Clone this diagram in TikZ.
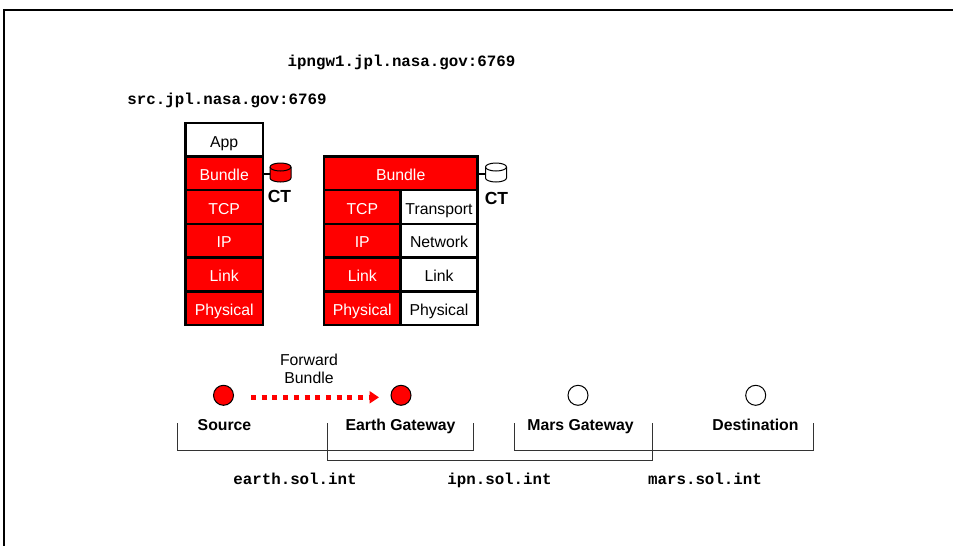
\documentclass[tikz,border=0pt]{standalone}
\usepackage{fontspec}
\setmainfont{Liberation Sans}
\setmonofont{Liberation Mono}
\usetikzlibrary{arrows.meta}

\definecolor{bundlered}{RGB}{255,0,0}

\tikzset{
  layer/.style={draw=black,line width=2.4pt,minimum height=33.5pt,inner sep=0pt,
    font=\fontsize{15.8}{18}\selectfont,text height=14pt,text depth=0pt},
  redlayer/.style={layer,fill=bundlered,text=white},
  whitelayer/.style={layer,fill=white,text=black},
  ctdrum/.style={draw=black,line width=1pt},
  ctlabel/.style={font=\bfseries\fontsize{17.5}{20}\selectfont},
  hop/.style={circle,draw=black,line width=1pt,minimum size=20pt,inner sep=0pt},
  hoplabel/.style={font=\bfseries\fontsize{15.8}{18}\selectfont,text height=11.5pt,text depth=3.5pt},
  addr/.style={font=\ttfamily\bfseries\fontsize{15.8}{18}\selectfont,text height=11.5pt,text depth=3.5pt},
  bracket/.style={draw=black!80,line width=1pt}
}

\begin{document}
\begin{tikzpicture}[x=1pt,y=-1pt]
  \useasboundingbox (0,0) rectangle (953,546);
  \draw[line width=2.4pt] (4,546) -- (4,10) -- (953,10);

  \node[addr] (gwaddr) at (401.5,62) {ipngw1.jpl.nasa.gov:6769};
  \node[addr] (srcaddr) at (227,100) {src.jpl.nasa.gov:6769};

  % Source stack
  \node[whitelayer,minimum width=77.5pt] (srcapp) at (224.2,140) {App};
  \foreach \name/\txt/\y in {srcbundle/Bundle/173.3,srctcp/TCP/207,srcip/IP/240.8,srclink/Link/274.7,srcphy/Physical/308.4} {
    \node[redlayer,minimum width=77.5pt] (\name) at (224.2,\y) {\txt};
  }

  % Gateway stack
  \node[redlayer,minimum width=153.5pt] (gwbundle) at (400.7,173.3) {Bundle};
  \foreach \name/\txt/\y in {gwtcp/TCP/207,gwip/IP/240.8,gwlink/Link/274.7,gwphy/Physical/308.4} {
    \node[redlayer,minimum width=76.7pt] (\name) at (362.3,\y) {\txt};
  }
  \foreach \name/\txt/\y in {gwtrans/Transport/207,gwnet/Network/240.8,gwdlink/Link/274.7,gwdphy/Physical/308.4} {
    \node[whitelayer,minimum width=76.7pt] (\name) at (439,\y) {\txt};
  }

  % Custody stores
  \foreach \name/\x/\col in {srcct/280.5/bundlered,gwct/496/white} {
    \coordinate (\name) at (\x-10.5,174);
    \draw[ctdrum,fill=\col] (\x-10.5,167) -- (\x-10.5,178)
      arc[start angle=180,end angle=360,x radius=10.5pt,y radius=4pt]
      -- (\x+10.5,167)
      arc[start angle=0,end angle=180,x radius=10.5pt,y radius=4pt] -- cycle;
    \draw[ctdrum] (\x-10.5,167) arc[start angle=180,end angle=360,x radius=10.5pt,y radius=4pt];
  }
  \draw[line width=1.6pt] (srcbundle.east |- srcct) -- (srcct);
  \draw[line width=1.6pt] (gwbundle.east |- gwct) -- (gwct);
  \node[ctlabel] (srcctlabel) at (279.5,196) {CT};
  \node[ctlabel] (gwctlabel) at (496.5,198) {CT};

  % Hops
  \node[hop,fill=bundlered] (source) at (223.5,395.3) {};
  \node[hop,fill=bundlered] (earth) at (401,395.3) {};
  \node[hop,fill=white] (mars) at (578,395.3) {};
  \node[hop,fill=white] (dest) at (755.7,395.3) {};
  \draw[bundlered,line width=5pt,dash pattern=on 5pt off 5.7pt,-{Triangle[length=9.5pt,width=12pt]},shorten <=27.5pt,shorten >=22pt]
    ([yshift=-2pt]source.center) -- ([yshift=-2pt]earth.center);

  \node[font=\fontsize{15.8}{18}\selectfont,align=center] (fwd) at (309,369) {Forward\\Bundle};
  \node[hoplabel] (sourcelabel) at (224.5,426) {Source};
  \node[hoplabel] (earthlabel) at (400.5,426) {Earth Gateway};
  \node[hoplabel] (marslabel) at (580.5,426) {Mars Gateway};
  \node[hoplabel] (destlabel) at (755.5,426) {Destination};

  % Regions
  \draw[bracket] (177,423) -- (177,450.5) -- (473,450.5) -- (473,423);
  \draw[bracket] (327.7,423) -- (327.7,460.3) -- (652.3,460.3) -- (652.3,423);
  \draw[bracket] (514.3,423) -- (514.3,450.5) -- (813.3,450.5) -- (813.3,423);

  \node[addr] (earthaddr) at (295,480.5) {earth.sol.int};
  \node[addr] (ipnaddr) at (499.5,480.5) {ipn.sol.int};
  \node[addr] (marsaddr) at (705,480.5) {mars.sol.int};
\end{tikzpicture}
\end{document}
